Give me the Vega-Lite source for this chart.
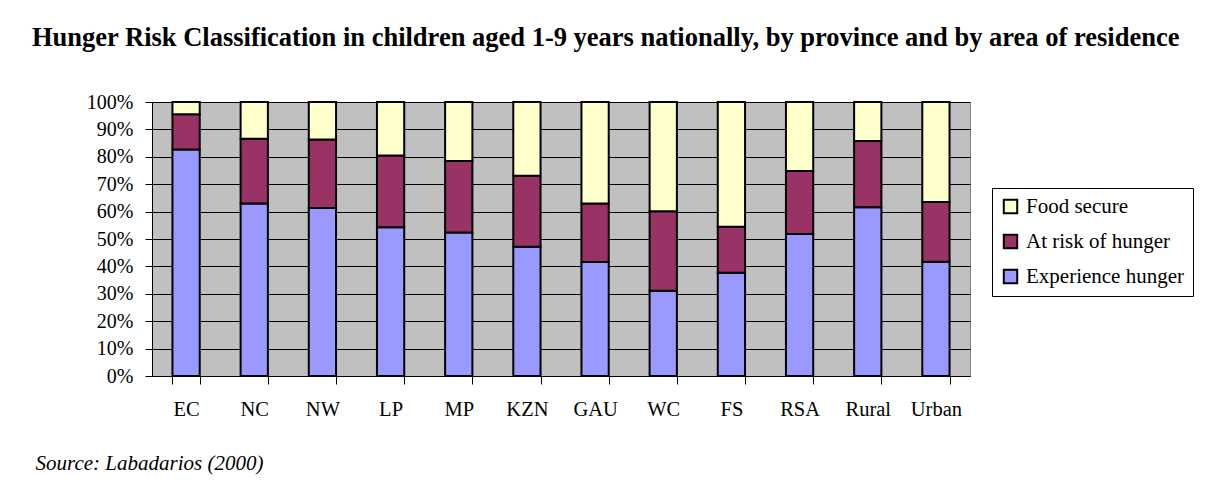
{
  "$schema": "https://vega.github.io/schema/vega-lite/v6.json",
  "width": 818,
  "height": 274,
  "autosize": {"type": "none"},
  "padding": {"left": 152, "top": 102, "right": 238, "bottom": 109},
  "background": "white",
  "title": {
    "text": "Hunger Risk Classification in children aged 1-9 years nationally, by province and by area of residence",
    "anchor": "start",
    "frame": "group",
    "dx": -120,
    "offset": 20,
    "baseline": "alphabetic",
    "font": "Liberation Serif, Times New Roman, serif",
    "fontSize": 26.5,
    "fontWeight": "bold",
    "color": "black"
  },
  "data": {
    "values": [
      {"area": "EC", "category": "Experience hunger", "pct": 82.7},
      {"area": "EC", "category": "At risk of hunger", "pct": 12.8},
      {"area": "EC", "category": "Food secure", "pct": 4.5},
      {"area": "NC", "category": "Experience hunger", "pct": 63.0},
      {"area": "NC", "category": "At risk of hunger", "pct": 23.6},
      {"area": "NC", "category": "Food secure", "pct": 13.4},
      {"area": "NW", "category": "Experience hunger", "pct": 61.3},
      {"area": "NW", "category": "At risk of hunger", "pct": 25.0},
      {"area": "NW", "category": "Food secure", "pct": 13.7},
      {"area": "LP", "category": "Experience hunger", "pct": 54.3},
      {"area": "LP", "category": "At risk of hunger", "pct": 26.2},
      {"area": "LP", "category": "Food secure", "pct": 19.5},
      {"area": "MP", "category": "Experience hunger", "pct": 52.4},
      {"area": "MP", "category": "At risk of hunger", "pct": 26.1},
      {"area": "MP", "category": "Food secure", "pct": 21.5},
      {"area": "KZN", "category": "Experience hunger", "pct": 47.2},
      {"area": "KZN", "category": "At risk of hunger", "pct": 25.9},
      {"area": "KZN", "category": "Food secure", "pct": 26.9},
      {"area": "GAU", "category": "Experience hunger", "pct": 41.6},
      {"area": "GAU", "category": "At risk of hunger", "pct": 21.4},
      {"area": "GAU", "category": "Food secure", "pct": 37.0},
      {"area": "WC", "category": "Experience hunger", "pct": 31.1},
      {"area": "WC", "category": "At risk of hunger", "pct": 29.0},
      {"area": "WC", "category": "Food secure", "pct": 39.9},
      {"area": "FS", "category": "Experience hunger", "pct": 37.7},
      {"area": "FS", "category": "At risk of hunger", "pct": 16.8},
      {"area": "FS", "category": "Food secure", "pct": 45.5},
      {"area": "RSA", "category": "Experience hunger", "pct": 51.8},
      {"area": "RSA", "category": "At risk of hunger", "pct": 23.0},
      {"area": "RSA", "category": "Food secure", "pct": 25.2},
      {"area": "Rural", "category": "Experience hunger", "pct": 61.6},
      {"area": "Rural", "category": "At risk of hunger", "pct": 24.2},
      {"area": "Rural", "category": "Food secure", "pct": 14.2},
      {"area": "Urban", "category": "Experience hunger", "pct": 41.7},
      {"area": "Urban", "category": "At risk of hunger", "pct": 21.8},
      {"area": "Urban", "category": "Food secure", "pct": 36.5}
    ]
  },
  "transform": [
    {"calculate": "indexof(['Experience hunger', 'At risk of hunger', 'Food secure'], datum.category)", "as": "stackRank"}
  ],
  "mark": {"type": "bar", "stroke": "black", "strokeWidth": 2},
  "encoding": {
    "x": {
      "field": "area",
      "type": "nominal",
      "sort": null,
      "scale": {"paddingInner": 0.6, "paddingOuter": 0.3},
      "axis": {
        "title": "Source: Labadarios (2000)",
        "titleAnchor": "start",
        "titleX": -117,
        "titleY": 93,
        "titleBaseline": "alphabetic",
        "titleFont": "Liberation Serif, Times New Roman, serif",
        "titleFontSize": 21,
        "titleFontStyle": "italic",
        "titleFontWeight": "normal",
        "titleColor": "black",
        "labelAngle": 0,
        "labelFont": "Liberation Serif, Times New Roman, serif",
        "labelFontSize": 20.5,
        "labelColor": "black",
        "labelPadding": 15,
        "tickBand": "extent",
        "tickSize": 8,
        "tickColor": "black",
        "domainColor": "black",
        "grid": false
      }
    },
    "y": {
      "field": "pct",
      "type": "quantitative",
      "stack": "zero",
      "scale": {"domain": [0, 100], "nice": false},
      "axis": {
        "title": null,
        "values": [0, 10, 20, 30, 40, 50, 60, 70, 80, 90, 100],
        "labelExpr": "datum.value + '%'",
        "labelFont": "Liberation Serif, Times New Roman, serif",
        "labelFontSize": 20,
        "labelColor": "black",
        "labelPadding": 12,
        "tickSize": 7,
        "tickColor": "black",
        "domainColor": "black",
        "grid": true,
        "gridColor": "black",
        "gridWidth": 1
      }
    },
    "order": {"field": "stackRank", "type": "quantitative", "sort": "ascending"},
    "color": {
      "field": "category",
      "type": "nominal",
      "scale": {
        "domain": ["Food secure", "At risk of hunger", "Experience hunger"],
        "range": ["#FFFFCC", "#993366", "#9999FF"]
      },
      "legend": {
        "title": null,
        "orient": "none",
        "legendX": 840,
        "legendY": 86,
        "symbolType": "square",
        "symbolSize": 180,
        "symbolStrokeColor": "black",
        "symbolStrokeWidth": 2,
        "labelFont": "Liberation Serif, Times New Roman, serif",
        "labelFontSize": 21,
        "labelColor": "black",
        "labelOffset": 5,
        "rowPadding": 12,
        "padding": 8,
        "strokeColor": "black",
        "fillColor": "white"
      }
    }
  },
  "config": {
    "view": {"fill": "#C0C0C0", "stroke": "#808080", "strokeWidth": 1},
    "font": "Liberation Serif, Times New Roman, serif"
  }
}
